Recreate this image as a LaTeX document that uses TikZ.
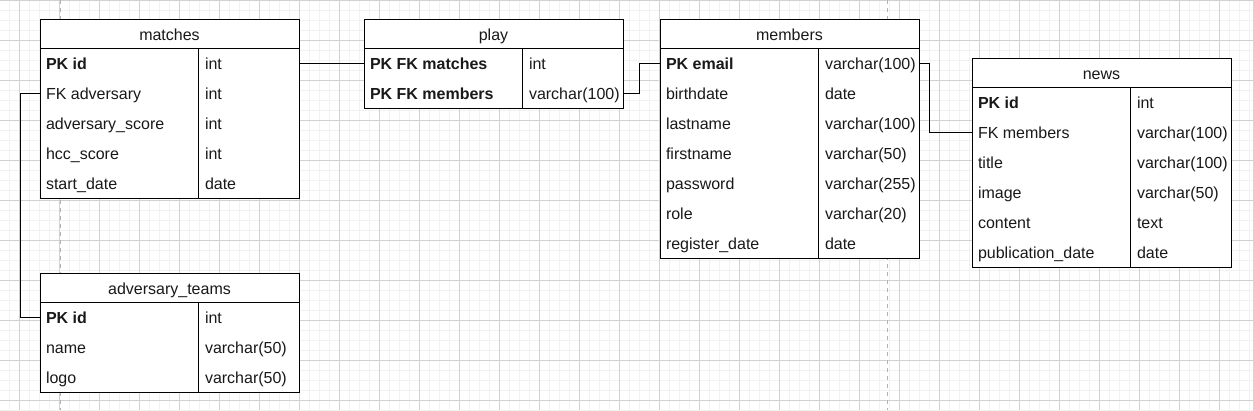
\documentclass[tikz,border=0pt]{standalone}
\usepackage{fontspec}
\setmainfont{Liberation Sans}
\usetikzlibrary{calc}
\tikzset{
  tbox/.style={draw=black, line width=1pt, fill=white, rectangle, inner sep=0pt, outer sep=0pt, minimum width=259pt, anchor=north west},
  ttxt/.style={inner sep=0pt, outer sep=0pt, text height=16pt, text depth=2.5pt, font=\fontsize{16}{19}\selectfont, text=black!90},
  fieldtxt/.style={ttxt, anchor=west},
  titletxt/.style={ttxt, anchor=center},
  sep/.style={draw=black, line width=1pt},
  conn/.style={draw=black, line width=1pt},
  minorgrid/.style={draw=black!5, line width=1pt},
  majorgrid/.style={draw=black!18, line width=1pt},
  pagebreak/.style={draw=black!30, line width=1pt, dash pattern=on 4pt off 4pt}
}
% #1 id, #2 left x, #3 top y, #4 title, #5 number of rows, #6 rows {field/type}
\newcommand\ertable[6]{%
  \node[tbox, minimum height={29pt+30pt*#5}] (#1) at (#2,#3) {};
  \node[titletxt] (#1-title) at (#2+129.5,#3+14.5) {#4};
  \coordinate (#1-hl) at (#2,#3+29);
  \coordinate (#1-hr) at (#2+259,#3+29);
  \draw[sep] (#1-hl) -- (#1-hr);
  \coordinate (#1-dt) at (#2+158,#3+29);
  \coordinate (#1-db) at (#2+158,#3+29+30*#5);
  \draw[sep] (#1-dt) -- (#1-db);
  \foreach \f/\t [count=\i] in {#6} {
    \pgfmathsetmacro\yc{#3+29+30*\i-15}
    \coordinate (#1-r\i-w) at (#2,\yc);
    \coordinate (#1-r\i-e) at (#2+259,\yc);
    \node[fieldtxt] (#1-f\i) at (#2+6,\yc) {\f};
    \node[fieldtxt] (#1-t\i) at (#2+165,\yc) {\t};
  }
}
\begin{document}
\begin{tikzpicture}[x=1pt,y=-1pt]
\useasboundingbox (0,0) rectangle (1253,410);
\fill[white] (0,0) rectangle (1253,410);
% grid
\foreach \x in {9,19,...,1253} \draw[minorgrid] (\x,0) -- (\x,410);
\foreach \y in {10,20,...,410} \draw[minorgrid] (0,\y) -- (1253,\y);
\foreach \x in {19,59,...,1253} \draw[majorgrid] (\x,0) -- (\x,410);
\foreach \y in {0,40,...,410} \draw[majorgrid] (0,\y) -- (1253,\y);
\draw[pagebreak] (60,0) -- (60,410);
\draw[pagebreak] (887,0) -- (887,410);
% tables
\ertable{matches}{40}{19}{matches}{5}{{\textbf{PK id}}/int, FK adversary/int, adversary\_score/int, hcc\_score/int, start\_date/date}
\ertable{adv}{40}{273}{adversary\_teams}{3}{{\textbf{PK id}}/int, name/varchar(50), logo/varchar(50)}
\ertable{play}{364}{19}{play}{2}{{\textbf{PK FK matches}}/int, {\textbf{PK FK members}}/varchar(100)}
\ertable{members}{660}{19}{members}{7}{{\textbf{PK email}}/varchar(100), birthdate/date, lastname/varchar(100), firstname/varchar(50), password/varchar(255), role/varchar(20), register\_date/date}
\ertable{news}{972}{58}{news}{6}{{\textbf{PK id}}/int, FK members/varchar(100), title/varchar(100), image/varchar(50), content/text, publication\_date/date}
% connectors
\draw[conn] (matches-r1-e) -- (play-r1-w);
\draw[conn] (matches-r2-w) -- ++(-20,0) |- (adv-r1-w);
\draw[conn] (play-r2-e) -- ++(16,0) |- (members-r1-w);
\draw[conn] (members-r1-e) -- ++(10.5,0) |- (news-r2-w);
\end{tikzpicture}
\end{document}
